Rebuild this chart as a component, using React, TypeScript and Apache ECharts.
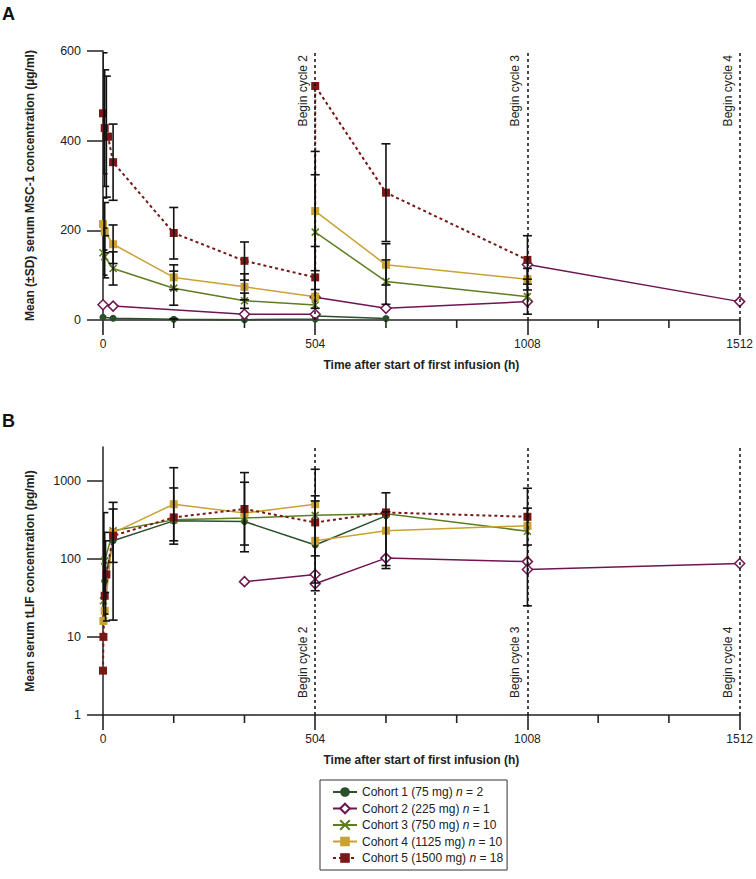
import React, { useEffect, useRef } from 'react';
import * as echarts from 'echarts';

// ---------- data ----------
const cohortNames = ['Cohort 1 (75 mg)', 'Cohort 2 (225 mg)', 'Cohort 3 (750 mg)', 'Cohort 4 (1125 mg)', 'Cohort 5 (1500 mg)'];
const cohortN = [2, 1, 10, 10, 18];

const cycleTimes = [504, 1008, 1512];
const cycleLabels = ['Begin cycle 2', 'Begin cycle 3', 'Begin cycle 4'];
const timeMajorStep = 504; // labelled ticks: 0, 504, 1008, 1512
const weeklyTicks = [168, 336, 672, 840, 1176, 1344]; // unlabelled minor ticks
const tlifTickLabels = [1, 10, 100, 1000];

// Panel A: serum MSC-1 (µg/ml), [time h, mean]
const msc1Cohort1 = [[0, 6], [24, 4], [168, 1.5], [336, 0.8], [504, 2], [504, 9], [672, 3.5]];
const msc1Cohort2 = [[0, 34], [24, 31], [336, 13], [504, 12.7], [504, 51], [672, 26], [1008, 41], [1008, 124], [1512, 41]];
const msc1Cohort3 = [[0, 150], [4, 141], [24, 115], [168, 71], [336, 43], [504, 33.5], [504, 196], [672, 86], [1008, 52]];
const msc1Cohort4 = [[0, 214], [4, 197], [24, 169], [168, 95], [336, 74], [504, 52], [504, 243], [672, 123], [1008, 91]];
const msc1Cohort5 = [[0, 461], [4, 428], [8, 409], [12, 409], [24, 352], [168, 194], [336, 132], [504, 95], [504, 522], [672, 284], [1008, 134]];
// ±SD bars: [time h, low, high]
const msc1SD = [
  [0, 326, 596], [4, 298, 558], [8, 274, 544], [0, 156, 272], [4, 150, 262], [0, 100, 205], [4, 94, 188],
  [24, 267, 437], [24, 126, 212], [24, 78, 152],
  [168, 136, 251], [168, 68, 123], [168, 33, 109], [168, 0, 3],
  [336, 89, 174], [336, 45, 103], [336, 26, 60],
  [504, 26, 164], [504, 110, 376], [504, 68, 324],
  [672, 175, 393], [672, 78, 170], [672, 35, 134],
  [1008, 80, 188], [1008, 67, 115], [1008, 13, 91],
];

// Panel B: serum tLIF (pg/ml), [time h, mean]
const tlifCohort1 = [[4, 52], [24, 170], [168, 306], [336, 300], [504, 150], [672, 355]];
const tlifCohort2 = [[336, 51], [504, 63], [504, 48], [672, 102], [1008, 92], [1008, 73], [1512, 87]];
const tlifCohort3 = [[1, 29], [4, 94], [24, 228], [168, 315], [336, 333], [504, 360], [672, 378], [1008, 225]];
const tlifCohort4 = [[1, 16], [4, 21.5], [24, 215], [168, 500], [336, 385], [504, 500], [504, 170], [672, 229], [1008, 265]];
const tlifCohort5 = [[0, 3.7], [1, 10], [4, 33.6], [8, 63], [24, 197], [168, 339], [336, 434], [504, 292], [672, 392], [1008, 345]];
const tlifSD = [
  [2, 19.6, 390], [4, 37, 218], [6, 16, 170],
  [24, 16.4, 528], [24, 90, 434],
  [168, 154, 807], [168, 170, 1468],
  [336, 123, 1270], [336, 150, 955],
  [504, 39, 1400], [504, 109, 640], [504, 49, 550],
  [672, 75, 700], [672, 82, 400],
  [1008, 25, 800], [1008, 150, 445],
];

// ---------- styles ----------
const FONT = "'Liberation Sans', Arial, Helvetica, sans-serif";
const TXT = '#222';
const colors = ['#2b4f2b', '#6e1552', '#5e7d1f', '#c9a233', '#7a1717'];
const xSymbol = 'path://M0,0L10,10M10,0L0,10';
const plain = (v: number) => String(v);

function seriesStyle(i: number) {
  const c = colors[i];
  const base: any = {
    type: 'line',
    name: cohortNames[i],
    showSymbol: true,
    clip: false,
    z: 3,
    lineStyle: { color: c, width: 1.5 },
    itemStyle: { color: c },
    emphasis: { disabled: true },
  };
  if (i === 0) { base.symbol = 'circle'; base.symbolSize = 7; }
  if (i === 1) { base.symbol = 'diamond'; base.symbolSize = 10; base.itemStyle = { color: '#fff', borderColor: c, borderWidth: 1.5 }; }
  if (i === 2) { base.symbol = xSymbol; base.symbolSize = 7; base.itemStyle = { color: c, borderColor: c, borderWidth: 1.6 }; }
  if (i === 3) { base.symbol = 'rect'; base.symbolSize = 8; }
  if (i === 4) { base.symbol = 'rect'; base.symbolSize = 8; base.lineStyle = { color: c, width: 2, type: [3, 3] }; }
  return base;
}

function errorSeries(data: number[][], axisIndex: number) {
  return {
    type: 'custom',
    xAxisIndex: axisIndex,
    yAxisIndex: axisIndex,
    data,
    z: 4,
    clip: true,
    silent: true,
    encode: { x: 0, y: [1, 2] },
    renderItem: (params: any, api: any) => {
      const x = api.value(0);
      const lo = api.value(1);
      const hi = api.value(2);
      const p1 = api.coord([x, lo]);
      const p2 = api.coord([x, hi]);
      const w = 4.5;
      const style = { stroke: '#111', lineWidth: 1.6 };
      return {
        type: 'group',
        children: [
          { type: 'line', shape: { x1: p1[0], y1: p1[1], x2: p2[0], y2: p2[1] }, style },
          { type: 'line', shape: { x1: p1[0] - w, y1: p1[1], x2: p1[0] + w, y2: p1[1] }, style },
          { type: 'line', shape: { x1: p2[0] - w, y1: p2[1], x2: p2[0] + w, y2: p2[1] }, style },
        ],
      };
    },
  };
}

// short unlabelled weekly ticks under the time axis
function minorTickSeries(axisIndex: number, yRef: number) {
  return {
    type: 'custom',
    xAxisIndex: axisIndex,
    yAxisIndex: axisIndex,
    data: weeklyTicks.map((t) => [t, yRef]),
    z: 5,
    clip: false,
    silent: true,
    encode: { x: 0, y: 1 },
    renderItem: (params: any, api: any) => {
      const p = api.coord([api.value(0), api.value(1)]);
      const cs = params.coordSys;
      const yBottom = cs.y + cs.height;
      return {
        type: 'rect',
        shape: { x: p[0] - 0.8, y: yBottom, width: 1.6, height: 8 },
        style: { fill: '#222' },
      };
    },
  };
}

function cycleMarkLine(position: string, distance: number[]) {
  return {
    silent: true,
    symbol: ['none', 'none'],
    lineStyle: { color: '#111', width: 1.5, type: [3, 3] },
    label: {
      show: true,
      position,
      formatter: '{b}',
      fontSize: 12,
      fontFamily: FONT,
      color: TXT,
      distance,
    },
    data: cycleTimes.map((t, k) => ({ xAxis: t, name: cycleLabels[k] })),
  };
}

function xAxisCfg(gridIndex: number) {
  return {
    type: 'value',
    gridIndex,
    position: 'bottom',
    min: 0,
    max: 1512,
    interval: timeMajorStep,
    name: 'Time after start of first infusion (h)',
    nameLocation: 'middle',
    nameGap: 39,
    nameTextStyle: { fontFamily: FONT, fontSize: 12, fontWeight: 'bold', color: TXT },
    axisLine: { show: true, onZero: false, lineStyle: { color: '#222', width: 1.5 } },
    axisTick: { show: true, length: 15, lineStyle: { color: '#222', width: 1.6 } },
    axisLabel: { fontFamily: FONT, fontSize: 12, color: TXT, margin: 18, formatter: plain },
    splitLine: { show: false },
  };
}

export default function App() {
  const ref = useRef<HTMLDivElement>(null);
  useEffect(() => {
    if (!ref.current) return;
    const chart = echarts.init(ref.current, null, { renderer: 'svg' });
    const seriesA = [msc1Cohort1, msc1Cohort2, msc1Cohort3, msc1Cohort4, msc1Cohort5].map((d, i) => ({
      ...seriesStyle(i), xAxisIndex: 0, yAxisIndex: 0, data: d,
      ...(i === 0 ? { markLine: cycleMarkLine('insideEndTop', [4, 6]) } : {}),
    }));
    const seriesB = [tlifCohort1, tlifCohort2, tlifCohort3, tlifCohort4, tlifCohort5].map((d, i) => ({
      ...seriesStyle(i), xAxisIndex: 1, yAxisIndex: 1, data: d,
      ...(i === 0 ? { markLine: cycleMarkLine('insideStartTop', [17, 6]) } : {}),
    }));
    const option: any = {
      animation: false,
      textStyle: { fontFamily: FONT },
      grid: [
        { left: 103, right: 14, top: 51, height: 269, containLabel: false },
        { left: 103, right: 14, top: 447, height: 268, containLabel: false },
      ],
      xAxis: [xAxisCfg(0), xAxisCfg(1)],
      yAxis: [
        {
          type: 'value', gridIndex: 0, min: 0, max: 600, interval: 200,
          name: 'Mean (±SD) serum MSC-1 concentration (µg/ml)',
          nameLocation: 'middle', nameGap: 67,
          nameTextStyle: { fontFamily: FONT, fontSize: 12, fontWeight: 'bold', color: TXT },
          axisLine: { show: true, lineStyle: { color: '#222', width: 1.5 } },
          axisTick: { show: true, length: 16, lineStyle: { color: '#222', width: 1.5 } },
          axisLabel: { fontFamily: FONT, fontSize: 12.5, color: TXT, margin: 22, formatter: plain },
          splitLine: { show: false },
        },
        {
          type: 'log', gridIndex: 1, logBase: 10, min: 1, max: 2700,
          name: 'Mean serum tLIF concentration (pg/ml)',
          nameLocation: 'middle', nameGap: 67,
          nameTextStyle: { fontFamily: FONT, fontSize: 12, fontWeight: 'bold', color: TXT },
          axisLine: { show: true, lineStyle: { color: '#222', width: 1.5 } },
          axisTick: { show: true, length: 16, lineStyle: { color: '#222', width: 1.5 }, customValues: tlifTickLabels },
          axisLabel: { fontFamily: FONT, fontSize: 12.5, color: TXT, margin: 22, customValues: tlifTickLabels, formatter: plain },
          splitLine: { show: false },
          minorTick: { show: false },
        },
      ],
      legend: {
        data: cohortNames,
        orient: 'vertical',
        left: 320,
        top: 780,
        padding: [6, 4, 6, 12],
        itemWidth: 24,
        itemHeight: 12,
        itemGap: 4.5,
        borderColor: '#333',
        borderWidth: 1,
        selectedMode: false,
        formatter: (name: string) => `${name} {i|n} = ${cohortN[cohortNames.indexOf(name)]}`,
        textStyle: {
          fontFamily: FONT, fontSize: 12, color: TXT,
          rich: { i: { fontFamily: FONT, fontSize: 12, color: TXT, fontStyle: 'italic' } },
        },
      },
      graphic: [
        { type: 'text', left: 2, top: 5, style: { text: 'A', font: `bold 18px ${FONT}`, fill: '#111' } },
        { type: 'text', left: 2, top: 412, style: { text: 'B', font: `bold 18px ${FONT}`, fill: '#111' } },
      ],
      series: [
        ...seriesA,
        ...seriesB,
        errorSeries(msc1SD, 0),
        errorSeries(tlifSD, 1),
        minorTickSeries(0, 100),
        minorTickSeries(1, 100),
      ],
    };
    chart.setOption(option);
    return () => chart.dispose();
  }, []);
  return <div ref={ref} style={{ position: 'fixed', left: 0, top: 0, width: 756, height: 879, background: '#fff' }} />;
}
